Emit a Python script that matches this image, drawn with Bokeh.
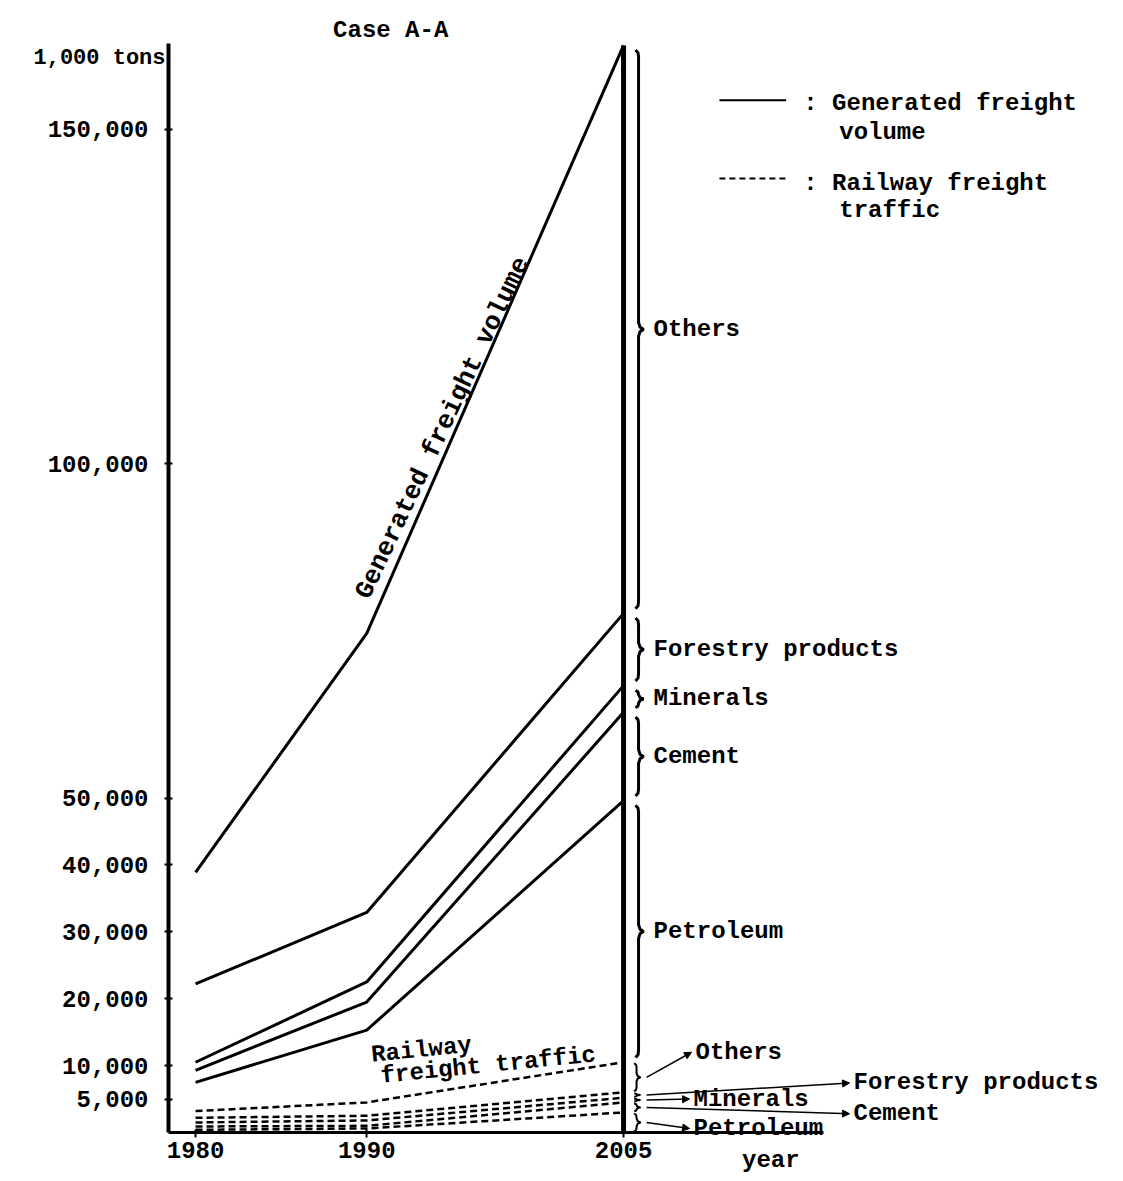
from bokeh.plotting import figure
from bokeh.models import (FixedTicker, NumeralTickFormatter, Label, Arrow,
                          NormalHead, Range1d)
from bokeh.embed import file_html
from bokeh.resources import INLINE

# ---------------- data (1,000 tons) ----------------
years = [1980, 1990, 2005]

# Generated freight volume (cumulative lines, top = total)
gen_total = [38900, 74600, 162500]
gen_forestry = [22200, 32900, 77600]
gen_minerals = [10500, 22500, 66800]
gen_cement = [9300, 19500, 62800]
gen_petroleum = [7500, 15300, 49600]

# Railway freight traffic (cumulative lines, top = total)
rail_total = [3200, 4500, 10500]
rail_forestry = [2200, 2500, 6000]
rail_minerals = [1500, 1800, 5200]
rail_cement = [900, 1000, 4500]
rail_petroleum = [400, 600, 3000]

gen_labels = ["Others", "Forestry products", "Minerals", "Cement", "Petroleum"]
rail_labels = ["Others", "Forestry products", "Minerals", "Cement", "Petroleum"]

y_ticks = [5000, 10000, 20000, 30000, 40000, 50000, 100000, 150000]
x_ticks = [1980, 1990, 2005]

FONT = "Liberation Mono"
PX_X = 17.12          # pixels per year
PX_Y = 6.69 / 1000.0  # pixels per unit (1,000 tons)
X_AXIS_POS = 1978.42  # where the value axis stands

W, H = 1115, 1178
x0 = X_AXIS_POS - 168 / PX_X
y1 = 1132 / PX_Y
y0 = (1132 - H) / PX_Y

p = figure(width=W, height=H,
           x_range=Range1d(x0, x0 + W / PX_X), y_range=Range1d(y0, y1),
           output_backend="svg", toolbar_location=None,
           min_border_left=0, min_border_right=0,
           min_border_top=0, min_border_bottom=0)
p.xgrid.visible = False
p.ygrid.visible = False
p.outline_line_color = None
p.background_fill_color = "white"

# axes (fixed inside the frame)
p.yaxis.fixed_location = X_AXIS_POS
p.xaxis.fixed_location = 0
p.yaxis.ticker = FixedTicker(ticks=y_ticks)
p.yaxis.formatter = NumeralTickFormatter(format="0,0")
p.yaxis.bounds = (0, 162800)
p.yaxis.axis_line_width = 4
p.yaxis.major_tick_line_width = 2
p.yaxis.major_tick_in = 4
p.yaxis.major_tick_out = 4
p.yaxis.minor_tick_line_color = None
p.yaxis.major_label_standoff = 16

p.xaxis.ticker = FixedTicker(ticks=x_ticks)
p.xaxis.bounds = (X_AXIS_POS, 2016.7)
p.xaxis.axis_line_width = 3
p.xaxis.major_tick_line_width = 2
p.xaxis.major_tick_in = 3
p.xaxis.major_tick_out = 5
p.xaxis.minor_tick_line_color = None
p.xaxis.major_label_standoff = 4

for ax in (p.xaxis, p.yaxis):
    ax.major_label_text_font = FONT
    ax.major_label_text_font_style = "bold"
    ax.major_label_text_font_size = "24px"
    ax.major_label_text_color = "black"
    ax.axis_line_color = "black"
    ax.major_tick_line_color = "black"

# generated freight volume lines
for s in (gen_total, gen_forestry, gen_minerals, gen_cement, gen_petroleum):
    p.line(years, s, line_width=3, color="black")

# railway freight traffic lines
for s in (rail_total, rail_forestry, rail_minerals, rail_cement, rail_petroleum):
    p.line(years, s, line_width=2.5, color="black", line_dash="7 4")

# vertical bar at 2005
p.line([years[2], years[2]], [0, gen_total[2]], line_width=5, color="black")


def brace(xb, ytop, ybot, d_px=5, curl_px=7):
    dx = d_px / PX_X
    dy = min(curl_px / PX_Y, (ytop - ybot) / 4.0)
    ym = (ytop + ybot) / 2.0
    xs = [xb - dx * 0.6, xb - dx * 0.1, xb, xb, xb + dx * 0.3, xb + dx,
          xb + dx * 0.3, xb, xb, xb - dx * 0.1, xb - dx * 0.6]
    ys = [ytop, ytop - dy * 0.4, ytop - dy, ym + dy, ym + dy * 0.3, ym,
          ym - dy * 0.3, ym - dy, ybot + dy, ybot + dy * 0.4, ybot]
    return xs, ys, ym


def label(x, y, text, size="24px", align="left", baseline="middle", angle=0.0):
    p.add_layout(Label(x=x, y=y, text=text, text_font=FONT,
                       text_font_style="bold", text_font_size=size,
                       text_color="black", text_align=align,
                       text_baseline=baseline, angle=angle))


bx = years[2] + 15 / PX_X
gen_bounds = [gen_total[2], gen_forestry[2], gen_minerals[2], gen_cement[2],
              gen_petroleum[2], rail_total[2]]
txt_x = years[2] + 30 / PX_X
for i, name in enumerate(gen_labels):
    xs, ys, ym = brace(bx, gen_bounds[i] - 700, gen_bounds[i + 1] + 700)
    p.line(xs, ys, line_width=3, color="black")
    label(txt_x, ym, name)

rail_bounds = [rail_total[2], rail_forestry[2], rail_minerals[2],
               rail_cement[2], rail_petroleum[2], 0]
# label anchors: pixel offset right of 2005, value level
rail_txt = [(72, 12000), (230, 7400), (70, 5000), (230, 2800), (70, 600)]
for i, name in enumerate(rail_labels):
    xs, ys, ym = brace(bx - 2 / PX_X, rail_bounds[i] - 150,
                       rail_bounds[i + 1] + 150, d_px=4, curl_px=4)
    p.line(xs, ys, line_width=2, color="black")
    tx = years[2] + rail_txt[i][0] / PX_X
    ty = rail_txt[i][1]
    p.add_layout(Arrow(end=NormalHead(size=7, fill_color="black",
                                      line_color="black"),
                       x_start=bx + 8 / PX_X, y_start=ym,
                       x_end=tx - 4 / PX_X, y_end=ty,
                       line_width=1.5, line_color="black"))
    label(tx, ty, name)

# in-chart annotations
label(1995.23, 104350, "Generated freight volume", size="26px",
      align="center", baseline="bottom", angle=1.129)
label(1993.2, 12300, "Railway", align="center", angle=0.1)
label(1997.1, 10000, "freight traffic", align="center", angle=0.1)

# title, unit, x-axis name
label(1991.4, (1132 - 30) / PX_Y, "Case A-A", align="center")
label(X_AXIS_POS - 3 / PX_X, (1132 - 58) / PX_Y, "1,000 tons", size="22px",
      align="right")
label(2013.6, (1132 - 1160) / PX_Y, "year", align="center")

# legend
p.line([2010.6, 2014.5], [154300, 154300], line_width=2, color="black")
p.line([2010.6, 2014.5], [142600, 142600], line_width=2, color="black",
       line_dash="6 4")
label(2015.5, 153800, ": Generated freight")
label(2017.6, 149500, "volume")
label(2015.5, 141900, ": Railway freight")
label(2017.6, 137800, "traffic")

open("out.html", "w").write(file_html(p, INLINE))
